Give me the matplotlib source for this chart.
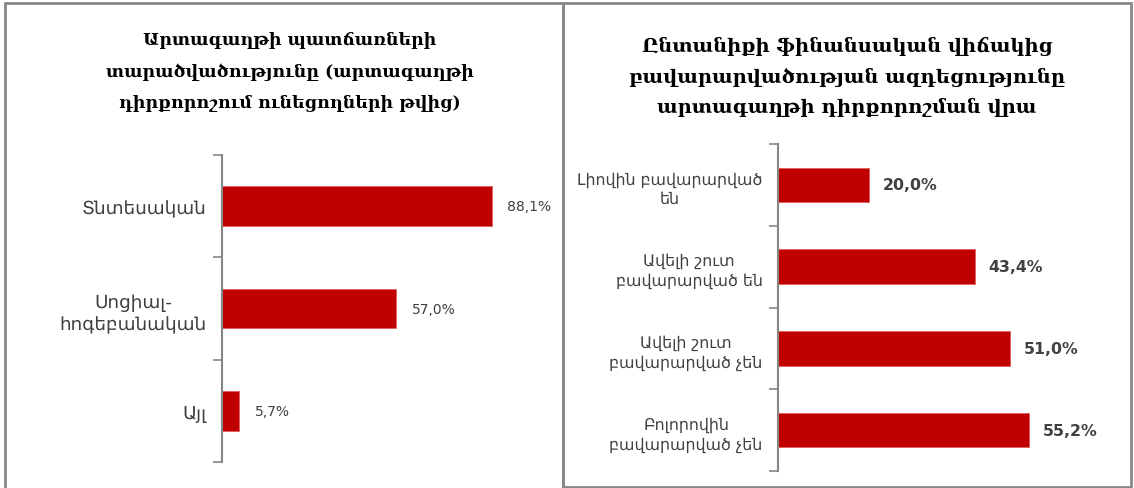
import matplotlib.pyplot as plt
from matplotlib.patches import Rectangle

# =====================================================================
# Data
# =====================================================================
left_title = "Արտագաղթի պատճառների\nտարածվածությունը (արտագաղթի\nդիրքորոշում ունեցողների թվից)"
left_cats = ["Տնտեսական", "Սոցիալ-\nհոգեբանական", "Այլ"]
left_vals = [88.1, 57.0, 5.7]

right_title = "Ընտանիքի ֆինանսական վիճակից\nբավարարվածության ազդեցությունը\nարտագաղթի դիրքորոշման վրա"
right_cats = ["Լիովին բավարարված\nեն", "Ավելի շուտ\nբավարարված են",
              "Ավելի շուտ\nբավարարված չեն", "Բոլորովին\nբավարարված չեն"]
right_vals = [20.0, 43.4, 51.0, 55.2]

# =====================================================================
# Settings
# =====================================================================
W, H = 1134, 489
BAR = "#C00000"
AXIS = "#868686"
TXT = "#404040"
plt.rcParams['font.family'] = ['DejaVu Sans']

fig = plt.figure(figsize=(W / 100, H / 100), dpi=100)


def px_axes(x0, y0, x1, y1):
  return fig.add_axes([x0 / W, 1 - y1 / H, (x1 - x0) / W, (y1 - y0) / H])


def bar_panel(ax, cats, vals, xmax, bar_h, label_kw, lab_size, lab_gap):
  n = len(cats)
  ypos = list(range(n))[::-1]
  ax.barh(ypos, vals, height=bar_h, color=BAR, edgecolor="#E06060", linewidth=0.6)
  ax.set_xlim(0, xmax)
  ax.set_ylim(-0.5, n - 0.5)
  ax.set_yticks(ypos)
  ax.set_yticklabels(cats, fontsize=lab_size, color=TXT, linespacing=1.35,
                     ha="right", multialignment="center")
  ax.tick_params(axis="y", which="major", length=0, pad=11)
  ax.set_yticks([i - 0.5 for i in range(n + 1)], minor=True)
  ax.tick_params(axis="y", which="minor", length=6.5, width=1.2, color=AXIS)
  ax.set_xticks([])
  for s in ["top", "right", "bottom"]:
    ax.spines[s].set_visible(False)
  ax.spines["left"].set_color(AXIS)
  ax.spines["left"].set_linewidth(1.5)
  for y, v in zip(ypos, vals):
    ax.text(v + lab_gap, y, f"{v:.1f}%".replace(".", ","), va="center",
            ha="left", color=TXT, **label_kw)


# left chart
ax1 = px_axes(222, 156, 528, 463)
bar_panel(ax1, left_cats, left_vals, 100, 0.39, dict(fontsize=10), 13.2, 5)

# right chart
ax2 = px_axes(778, 145, 1096, 472)
bar_panel(ax2, right_cats, right_vals, 70, 0.42,
          dict(fontsize=11.3, fontweight="bold"), 11.4, 3)

# titles
fig.text(290 / W, 1 - 72 / H, left_title, ha="center", va="center",
         fontsize=12.5, fontweight="bold", family="DejaVu Serif",
         linespacing=2.1, color="black")
fig.text(847 / W, 1 - 77 / H, right_title, ha="center", va="center",
         fontsize=14, fontweight="bold", family="DejaVu Serif",
         linespacing=1.75, color="black")

# panel borders
fig.add_artist(Rectangle((5 / W, -0.05), (563 - 5) / W, 1 - 4 / H + 0.05,
                         transform=fig.transFigure, fill=False,
                         edgecolor="#888888", linewidth=2))
fig.add_artist(Rectangle((563 / W, 1 - 488 / H), (1131 - 563) / W, (488 - 4) / H,
                         transform=fig.transFigure, fill=False,
                         edgecolor="#888888", linewidth=2))

plt.savefig("out.png", dpi=100)
